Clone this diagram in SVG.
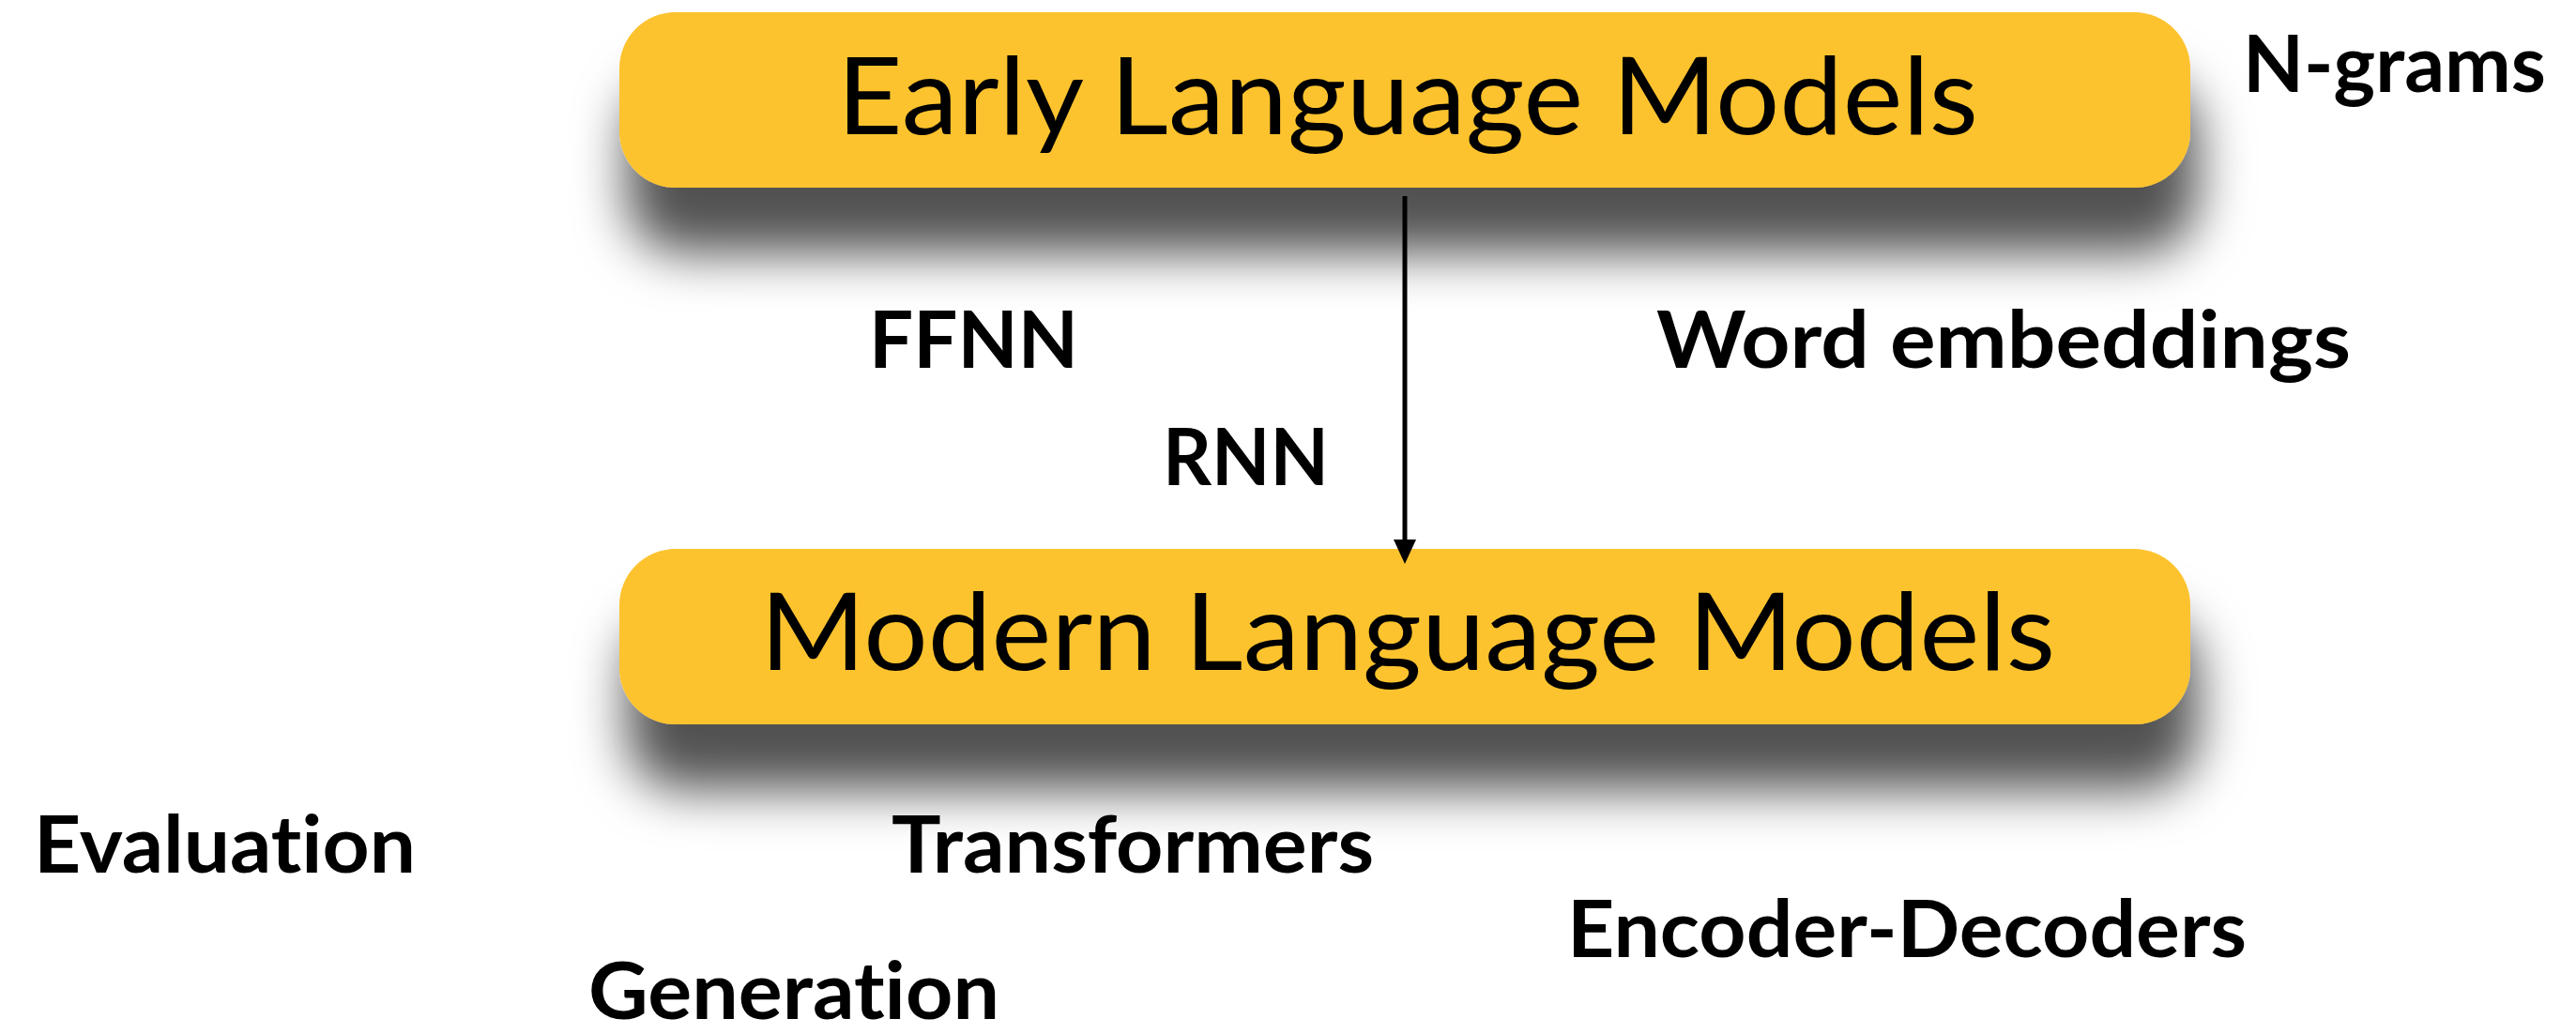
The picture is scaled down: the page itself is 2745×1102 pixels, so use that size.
<svg xmlns="http://www.w3.org/2000/svg" width="2745" height="1102" viewBox="0 0 2745 1102">
  <style>
    .box { fill: #FDC32F; filter: url(#dropShadow); }
    .boxText { font-family: Lato, "Noto Sans", "Liberation Sans", sans-serif; font-weight: 400; font-size: 115px; fill: #000; font-variant-ligatures: none; }
    .label { font-family: Lato, "Noto Sans", "Liberation Sans", sans-serif; font-weight: 700; font-size: 84px; fill: #000; font-variant-ligatures: none; }
    .link { stroke: #000; stroke-width: 5; fill: none; }
  </style>
  <defs>
    <!-- soft drop shadow cast downward under each box -->
    <filter id="dropShadow" x="-10%" y="-40%" width="120%" height="240%">
      <feGaussianBlur in="SourceAlpha" stdDeviation="27" result="blur"/>
      <feOffset in="blur" dx="8" dy="70" result="shifted"/>
      <feFlood flood-color="#000" flood-opacity="0.68"/>
      <feComposite in2="shifted" operator="in" result="shadow"/>
      <feMerge>
        <feMergeNode in="shadow"/>
        <feMergeNode in="SourceGraphic"/>
      </feMerge>
    </filter>
    <marker id="arrowHead" markerUnits="userSpaceOnUse" markerWidth="30" markerHeight="30" viewBox="0 -15 30 30" refX="0" refY="0" orient="auto">
      <path d="M0,-12 L26,0 L0,12 Z" fill="#000"/>
    </marker>
  </defs>

  <rect width="2745" height="1102" fill="#fff"/>

  <g id="early-language-models">
    <rect class="box" x="660" y="13" width="1674" height="187" rx="60" ry="60"/>
    <text class="boxText" x="892" y="143" textLength="1216" lengthAdjust="spacingAndGlyphs">Early Language Models</text>
  </g>

  <g id="modern-language-models">
    <rect class="box" x="660" y="585" width="1674" height="187" rx="60" ry="60"/>
    <text class="boxText" x="810" y="714" textLength="1380" lengthAdjust="spacingAndGlyphs">Modern Language Models</text>
  </g>

  <g id="connectors">
    <line class="link" x1="1497" y1="209" x2="1497" y2="575" marker-end="url(#arrowHead)"/>
  </g>

  <g id="n-grams"><text class="label" x="2390" y="98" textLength="323" lengthAdjust="spacingAndGlyphs">N-grams</text></g>
  <g id="ffnn"><text class="label" x="926" y="392" textLength="223" lengthAdjust="spacingAndGlyphs">FFNN</text></g>
  <g id="word-embeddings"><text class="label" x="1765" y="392" textLength="740" lengthAdjust="spacingAndGlyphs">Word embeddings</text></g>
  <g id="rnn"><text class="label" x="1239" y="517" textLength="177" lengthAdjust="spacingAndGlyphs">RNN</text></g>
  <g id="evaluation"><text class="label" x="36" y="930" textLength="407" lengthAdjust="spacingAndGlyphs">Evaluation</text></g>
  <g id="transformers"><text class="label" x="950" y="930" textLength="514" lengthAdjust="spacingAndGlyphs">Transformers</text></g>
  <g id="encoder-decoders"><text class="label" x="1670" y="1020" textLength="724" lengthAdjust="spacingAndGlyphs">Encoder-Decoders</text></g>
  <g id="generation"><text class="label" x="627" y="1086" font-size="81" textLength="438" lengthAdjust="spacingAndGlyphs">Generation</text></g>
</svg>
